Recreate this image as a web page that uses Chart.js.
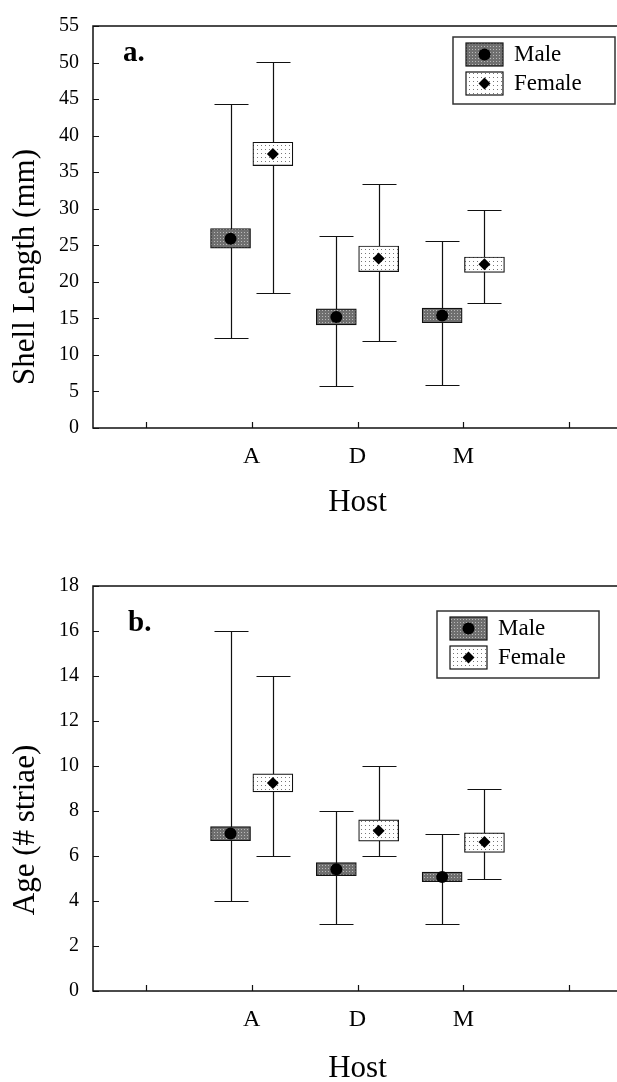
<!DOCTYPE html>
<html lang="en">
<head>
<meta charset="UTF-8">
<title>Shell length and age by host</title>
<style>
  html, body { margin: 0; padding: 0; background: #fff; overflow: hidden; }
  canvas { position: absolute; left: 0; }
</style>
<script src="https://cdn.jsdelivr.net/npm/chart.js@4.4.0/dist/chart.umd.min.js"></script>
</head>
<body>
<canvas id="chartA" width="640" height="540" style="top:0"></canvas>
<canvas id="chartB" width="640" height="560" style="top:540px"></canvas>
<script>
// categories
const hosts = ['A', 'D', 'M'];
const hostPos = [2, 3, 4];
const xTickValues = [1, 2, 3, 4, 5];
const xTickLabels = ['', 'A', 'D', 'M', ''];

// a. shell length (mm)
const maleLenMin  = [12.3, 5.8, 5.9];
const maleLenMax  = [44.3, 26.3, 25.6];
const maleLenLo   = [24.6, 14.1, 14.4];
const maleLenHi   = [27.3, 16.3, 16.4];
const maleLenMean = [25.9, 15.2, 15.4];
const femaleLenMin  = [18.5, 11.9, 17.1];
const femaleLenMax  = [50.1, 33.4, 29.8];
const femaleLenLo   = [35.9, 21.4, 21.3];
const femaleLenHi   = [39.1, 24.9, 23.4];
const femaleLenMean = [37.5, 23.2, 22.4];

// b. age (# striae)
const maleAgeMin  = [4, 3, 3];
const maleAgeMax  = [16, 8, 7];
const maleAgeLo   = [6.68, 5.13, 4.86];
const maleAgeHi   = [7.31, 5.71, 5.28];
const maleAgeMean = [7.0, 5.41, 5.07];
const femaleAgeMin  = [6, 6, 5];
const femaleAgeMax  = [14, 10, 9];
const femaleAgeLo   = [8.85, 6.66, 6.16];
const femaleAgeHi   = [9.65, 7.61, 7.03];
const femaleAgeMean = [9.25, 7.12, 6.62];

const SERIF = "'Liberation Serif', 'Times New Roman', serif";
const SHIFT = 0.2;   // male left / female right of the host tick
const CAP = 17;      // half width of whisker caps, px

function makePattern(ctx, bg, dot, size) {
    const tile = document.createElement('canvas');
    tile.width = size; tile.height = size;
    const g = tile.getContext('2d');
    g.fillStyle = bg;
    g.fillRect(0, 0, size, size);
    g.fillStyle = dot;
    g.fillRect(1, 1, 1, 1);
    return ctx.createPattern(tile, 'repeat');
}

function drawDiamond(ctx, x, y, r) {
    ctx.beginPath();
    ctx.moveTo(x - r, y); ctx.lineTo(x, y - r); ctx.lineTo(x + r, y); ctx.lineTo(x, y + r);
    ctx.closePath();
    ctx.fill();
}

function panelPlugin(cfg) {
    return {
        id: 'panel',
        beforeDatasetsDraw(chart) {
            const { ctx, scales: { x, y } } = chart;
            ctx.save();
            ctx.strokeStyle = '#111';
            ctx.lineWidth = 1.2;
            cfg.whiskers.forEach(w => {
                hostPos.forEach((p, i) => {
                    const px = Math.round(x.getPixelForValue(p + w.shift)) + 0.5;
                    const top = Math.round(y.getPixelForValue(w.max[i])) + 0.5;
                    const bot = Math.round(y.getPixelForValue(w.min[i])) + 0.5;
                    ctx.beginPath();
                    ctx.moveTo(px, top); ctx.lineTo(px, bot);
                    ctx.moveTo(px - CAP, top); ctx.lineTo(px + CAP, top);
                    ctx.moveTo(px - CAP, bot); ctx.lineTo(px + CAP, bot);
                    ctx.stroke();
                });
            });
            ctx.restore();
        },
        afterDraw(chart) {
            const { ctx, chartArea: a, scales: { x, y } } = chart;
            ctx.save();
            // frame (left, top, bottom) and inward ticks
            ctx.strokeStyle = '#111';
            ctx.lineWidth = 1.5;
            ctx.beginPath();
            ctx.moveTo(a.right, a.top); ctx.lineTo(a.left, a.top);
            ctx.lineTo(a.left, a.bottom); ctx.lineTo(a.right, a.bottom);
            ctx.stroke();
            ctx.lineWidth = 1.2;
            ctx.beginPath();
            y.ticks.forEach(t => {
                const py = Math.round(y.getPixelForValue(t.value)) + 0.5;
                ctx.moveTo(a.left, py); ctx.lineTo(a.left + 6, py);
            });
            x.ticks.forEach(t => {
                const px = Math.round(x.getPixelForValue(t.value)) + 0.5;
                ctx.moveTo(px, a.bottom); ctx.lineTo(px, a.bottom - 6);
            });
            ctx.stroke();

            // panel letter
            ctx.fillStyle = '#000';
            ctx.font = 'bold 29px ' + SERIF;
            ctx.textAlign = 'left';
            ctx.textBaseline = 'alphabetic';
            ctx.fillText(cfg.letter, cfg.letterX, cfg.letterY);

            // y axis title
            ctx.save();
            ctx.translate(26, cfg.yTitleY);
            ctx.rotate(-Math.PI / 2);
            ctx.font = '31px ' + SERIF;
            ctx.textAlign = 'center';
            ctx.textBaseline = 'middle';
            ctx.fillText(cfg.yTitle, 0, 0);
            ctx.restore();

            // legend
            const L = cfg.legend;
            ctx.fillStyle = '#fff';
            ctx.fillRect(L.x, L.y, 162, 67);
            ctx.strokeStyle = '#333';
            ctx.lineWidth = 1.5;
            ctx.strokeRect(L.x, L.y, 162, 67);
            const rows = [
                { label: 'Male', fill: cfg.malePattern, cy: L.y + 17, mark: 'circle' },
                { label: 'Female', fill: cfg.femalePattern, cy: L.y + 46, mark: 'diamond' }
            ];
            rows.forEach(r => {
                ctx.fillStyle = r.fill;
                ctx.fillRect(L.x + 13, r.cy - 11, 37, 23);
                ctx.lineWidth = 1.2;
                ctx.strokeStyle = '#111';
                ctx.strokeRect(L.x + 13, r.cy - 11, 37, 23);
                ctx.fillStyle = '#000';
                if (r.mark === 'circle') {
                    ctx.beginPath();
                    ctx.arc(L.x + 31.5, r.cy + 0.5, 6, 0, Math.PI * 2);
                    ctx.fill();
                } else {
                    drawDiamond(ctx, L.x + 31.5, r.cy + 0.5, 6);
                }
                ctx.font = '23px ' + SERIF;
                ctx.textAlign = 'left';
                ctx.textBaseline = 'middle';
                ctx.fillText(r.label, L.x + 61, r.cy + 1);
            });
            ctx.restore();
        }
    };
}

function buildChart(id, s) {
    const canvas = document.getElementById(id);
    const ctx = canvas.getContext('2d');
    const malePattern = makePattern(ctx, '#6f6f6f', '#b8b8b8', 3);
    const femalePattern = makePattern(ctx, '#ffffff', '#777777', 4);

    const boxData = (lo, hi, shift) => hostPos.map((p, i) => ({ x: p + shift, y: [lo[i], hi[i]] }));
    const meanData = (m, shift) => hostPos.map((p, i) => ({ x: p + shift, y: m[i] }));

    return new Chart(ctx, {
        type: 'bar',
        data: {
            datasets: [
                {
                    type: 'scatter', label: 'Male mean', order: 1,
                    data: meanData(s.male.mean, -SHIFT),
                    pointStyle: 'circle', pointRadius: 6,
                    backgroundColor: '#000', borderWidth: 0
                },
                {
                    type: 'scatter', label: 'Female mean', order: 1,
                    data: meanData(s.female.mean, SHIFT),
                    pointStyle: 'rectRot', pointRadius: 6,
                    backgroundColor: '#000', borderWidth: 0
                },
                {
                    label: 'Male', order: 2, grouped: false,
                    data: boxData(s.male.lo, s.male.hi, -SHIFT),
                    backgroundColor: malePattern,
                    borderColor: '#111', borderWidth: 1.2, borderSkipped: false,
                    barThickness: 40
                },
                {
                    label: 'Female', order: 2, grouped: false,
                    data: boxData(s.female.lo, s.female.hi, SHIFT),
                    backgroundColor: femalePattern,
                    borderColor: '#111', borderWidth: 1.2, borderSkipped: false,
                    barThickness: 40
                }
            ]
        },
        options: {
            responsive: false,
            animation: false,
            events: [],
            layout: { padding: { top: s.padTop, right: 18, bottom: 0, left: 0 } },
            plugins: { legend: { display: false }, tooltip: { enabled: false } },
            scales: {
                x: {
                    type: 'linear', min: 0.5, max: 5.5, offset: false,
                    grid: { display: false, drawTicks: false, offset: false },
                    border: { display: false },
                    afterBuildTicks: sc => { sc.ticks = xTickValues.map(v => ({ value: v })); },
                    afterFit: sc => { sc.height = s.xHeight; },
                    ticks: {
                        padding: 14,
                        color: '#000',
                        font: { family: SERIF, size: 24 },
                        callback: v => xTickLabels[xTickValues.indexOf(v)] ?? ''
                    },
                    title: {
                        display: true, text: 'Host', color: '#000',
                        font: { family: SERIF, size: 31 },
                        padding: { top: 0, bottom: s.hostPad }
                    }
                },
                y: {
                    min: 0, max: s.yMax,
                    grid: { display: false, drawTicks: false },
                    border: { display: false },
                    afterFit: sc => { sc.width = 93; },
                    ticks: {
                        stepSize: s.yStep, padding: 14, color: '#000',
                        font: { family: SERIF, size: 20 }
                    }
                }
            }
        },
        plugins: [panelPlugin({
            whiskers: [
                { shift: -SHIFT, min: s.male.min, max: s.male.max },
                { shift: SHIFT, min: s.female.min, max: s.female.max }
            ],
            letter: s.letter, letterX: s.letterX, letterY: s.letterY,
            yTitle: s.yTitle, yTitleY: s.yTitleY,
            legend: s.legend,
            malePattern, femalePattern
        })]
    });
}

buildChart('chartA', {
    male:   { min: maleLenMin, max: maleLenMax, lo: maleLenLo, hi: maleLenHi, mean: maleLenMean },
    female: { min: femaleLenMin, max: femaleLenMax, lo: femaleLenLo, hi: femaleLenHi, mean: femaleLenMean },
    yMax: 55, yStep: 5,
    padTop: 22, xHeight: 112, hostPad: 19,
    letter: 'a.', letterX: 123, letterY: 61,
    yTitle: 'Shell Length (mm)', yTitleY: 267,
    legend: { x: 453, y: 37 }
});

buildChart('chartB', {
    male:   { min: maleAgeMin, max: maleAgeMax, lo: maleAgeLo, hi: maleAgeHi, mean: maleAgeMean },
    female: { min: femaleAgeMin, max: femaleAgeMax, lo: femaleAgeLo, hi: femaleAgeHi, mean: femaleAgeMean },
    yMax: 18, yStep: 2,
    padTop: 46, xHeight: 109, hostPad: 13,
    letter: 'b.', letterX: 128, letterY: 91,
    yTitle: 'Age (# striae)', yTitleY: 290,
    legend: { x: 437, y: 71 }
});
</script>
</body>
</html>
